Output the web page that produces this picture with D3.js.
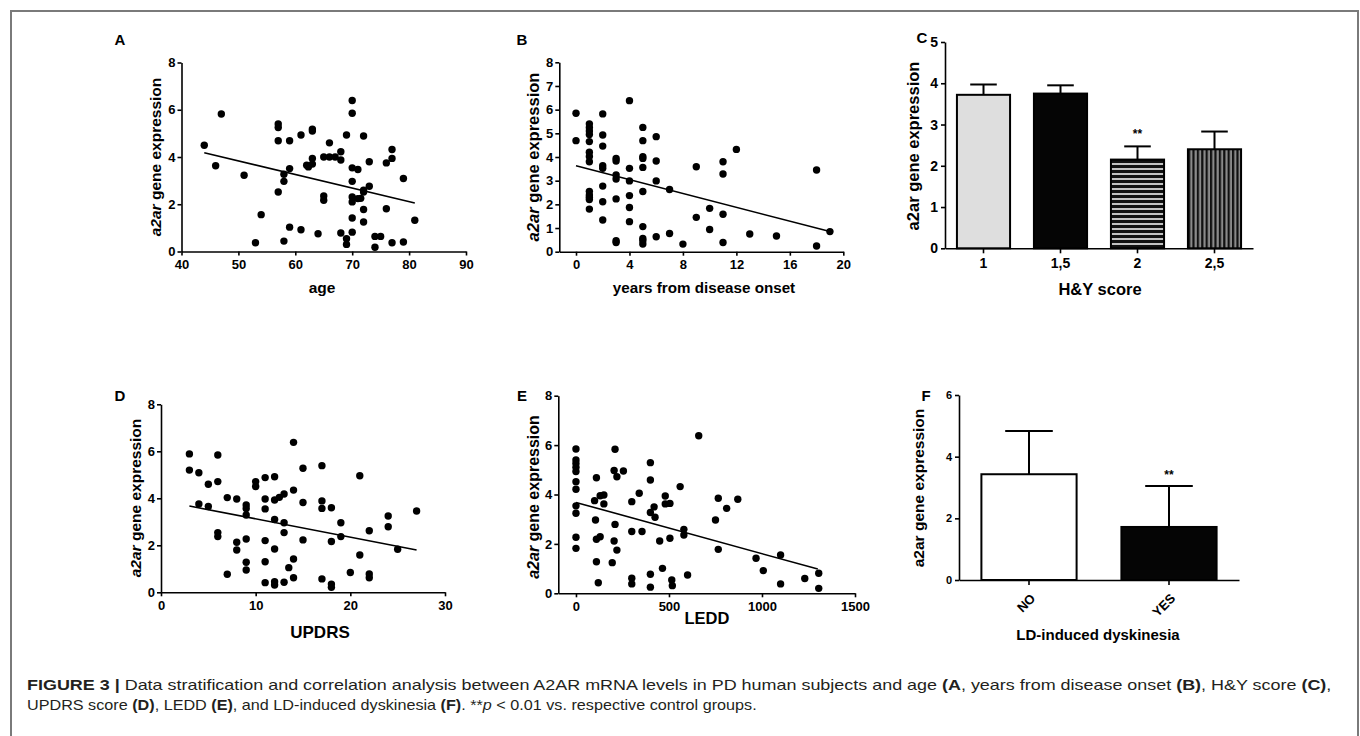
<html>
<script src="https://d3js.org/d3.v7.min.js"></script>
<style>
body {margin:0; background:white;}
text {font-family: "Liberation Sans", Arial, sans-serif;}
.axis path, .axis line {stroke:black; stroke-width:1.6;}
.axis text {font-weight:bold; fill:black;}
</style>
<body>
<svg width=1360 height=736></svg>
<script>
// ---- data ----
// A: age vs a2ar expression
var ageData = [[44,4.5],[46,3.63],[47,5.82],[51,3.23],[53,0.37],[54,1.56],[57,5.4],[57,5.25],[57,4.69],[57,2.52],
  [58,3.27],[58,2.97],[58,0.44],[59,4.69],[59,3.51],[59,1.03],[61,4.93],[61,0.92],[62,3.65],[62.3,3.58],
  [63,5.18],[63,5.1],[63,3.94],[63,3.7],[64,0.75],[65,4.0],[65,2.35],[65,2.17],[66,4.6],[66,4.0],
  [67,4.0],[68,4.22],[68,3.87],[68,0.78],[69,4.93],[69,0.54],[69,0.3],[70,6.39],[70,5.85],[70,3.54],
  [70,2.97],[70,2.31],[70,2.1],[70,1.42],[70,0.82],[71,3.47],[71,2.24],[71.5,2.25],[72,4.89],[72,2.6],
  [72,2.52],[72,1.78],[72,1.25],[73,3.8],[73,2.76],[74,0.64],[74,0.18],[75,0.64],[76,3.75],[76,1.81],
  [77,4.32],[77,3.94],[77,0.37],[79,3.09],[79,0.4],[81,1.32]];
var ageFit = [[44,4.18],[81,2.05]];

// B: years from disease onset
var onsetData = [[0,5.85],[0,4.69],[1,5.4],[1,5.25],[1,5.1],[1,4.95],[1,4.65],[1,4.2],[1,4.02],[1,3.8],
  [1,2.55],[1,2.4],[1,2.3],[1,2.2],[1,1.8],[2,5.82],[2,4.93],[2,4.46],[2,3.63],[2,3.52],[2,2.77],[2,2.11],[2,1.34],
  [3,3.94],[3,3.83],[3,3.24],[3,3.07],[3,2.23],[3,0.46],[3,0.39],[4,6.38],[4,3.52],[4,2.99],[4,2.37],[4,1.87],[4,1.27],
  [5,5.25],[5,4.69],[5,4.01],[5,3.94],[5,3.56],[5,2.54],[5,1.06],[5,0.56],[5,0.46],[5,0.32],
  [6,4.86],[6,3.83],[6,2.99],[6,0.63],[7,2.63],[7,0.77],[8,0.32],[9,3.59],[9,1.45],[10,1.83],[10,0.94],
  [11,3.8],[11,3.28],[11,1.58],[11,0.39],[12,4.32],[13,0.75],[15,0.66],[18,3.45],[18,0.24],[19,0.85]];
var onsetFit = [[0,3.63],[19,0.85]];

// C: H&Y score bars (mean, sem)
var hyCats = ["1","1,5","2","2,5"];
var hyMean = [3.72,3.75,2.15,2.4];
var hySem = [0.25,0.2,0.32,0.43];
var hyStar = ["","","**",""];

// D: UPDRS
var updrsData = [[3,5.89],[3,5.2],[4,5.09],[4,3.76],[5,4.6],[5,3.65],[6,5.84],[6,4.71],[6,2.54],[6,2.37],
  [7,4.03],[7,0.77],[8,3.97],[8,2.13],[8,1.8],[9,3.72],[9,3.57],[9,3.29],[9,2.27],[9,1.28],[9,0.95],
  [10,4.71],[10,4.5],[11,4.88],[11,3.97],[11,3.55],[11,2.2],[11,1.3],[11,0.41],[12,4.92],[12,3.93],
  [12,3.1],[12,1.84],[12,0.45],[12,0.31],[12.5,4.04],[13,4.18],[13,2.96],[13,2.54],[13,0.43],[13.5,1.05],
  [14,6.38],[14,4.35],[14,1.42],[14,0.62],[15,5.28],[15,3.82],[15,2.23],[17,5.39],[17,3.89],[17,3.57],
  [17,0.57],[18,3.6],[18,2.16],[18,0.35],[18,0.21],[19,2.96],[19,2.37],[20,0.84],[21,4.96],[21,1.59],
  [22,2.62],[22,0.78],[22,0.62],[24,3.25],[24,2.79],[25,1.83],[27,3.46]];
var updrsFit = [[3,3.67],[27,1.8]];

// E: LEDD
var leddData = [[0,5.84],[0,5.4],[0,5.26],[0,5.1],[0,4.93],[0,4.52],[0,4.21],[0,3.54],[0,3.24],[0,2.27],[0,1.82],
  [110,4.68],[100,3.75],[130,3.95],[150,3.98],[150,3.62],[105,2.97],[110,2.19],[130,2.29],[110,1.28],[120,0.43],
  [210,5.83],[205,4.97],[220,4.72],[255,4.95],[210,2.79],[205,2.12],[220,1.75],[195,1.24],
  [300,3.71],[300,2.5],[340,4.05],[355,2.5],[300,0.61],[300,0.38],
  [400,5.29],[400,4.59],[400,3.27],[420,3.5],[425,3.08],[400,0.77],[400,0.25],
  [450,2.12],[465,1.01],[480,3.94],[480,3.62],[505,3.64],[505,2.23],[515,0.54],[518,0.31],
  [560,4.32],[580,2.59],[580,2.36],[600,0.74],[660,6.38],[750,2.97],[765,3.85],[765,1.78],[810,3.44],[870,3.81],
  [968,1.42],[1007,0.92],[1100,1.55],[1100,0.38],[1230,0.6],[1305,0.81],[1305,0.2]];
var leddFit = [[0,3.68],[1300,0.98]];

// F: LD-induced dyskinesia bars (mean, sd)
var dysCats = ["NO","YES"];
var dysMean = [3.43,1.72];
var dysSd = [1.4,1.33];
var dysStar = ["","**"];

var svg = d3.select("svg");
var fmt = d3.format("d");

// stripe patterns for H&Y bars
var defs = svg.append("defs");
var hp = defs.append("pattern").attr("id","hstripe").attr("patternUnits","userSpaceOnUse").attr("width",6).attr("height",5);
hp.append("rect").attr("width",6).attr("height",5).attr("fill","#111");
hp.append("rect").attr("y",3.2).attr("width",6).attr("height",1.6).attr("fill","#eee");
var vp = defs.append("pattern").attr("id","vstripe").attr("patternUnits","userSpaceOnUse").attr("width",4.4).attr("height",6);
vp.append("rect").attr("width",4.4).attr("height",6).attr("fill","#8a8a8a");
vp.append("rect").attr("width",2.2).attr("height",6).attr("fill","#111");

// outer frame
svg.append("rect").attr("x",11).attr("y",11).attr("width",1347).attr("height",760)
   .attr("fill","none").attr("stroke","#7a7a7a").attr("stroke-width",2);

function yTitle(cx, cy, italic, size) {
  var t = svg.append("text")
     .attr("transform","translate("+(cx+size*0.36)+","+cy+") rotate(-90)")
     .style("text-anchor","middle").style("font-weight","bold").style("font-size",size+"px");
  t.append("tspan").style("font-style", italic ? "italic" : "normal").text("a2ar");
  t.append("tspan").text(" gene expression");
}

function xTitle(cx, y, label, size) {
  svg.append("text").attr("x",cx).attr("y",y).style("text-anchor","middle")
     .style("font-weight","bold").style("font-size",size+"px").text(label);
}

function panelLabel(x, y, s) {
  svg.append("text").attr("x",x).attr("y",y).style("text-anchor","middle")
     .style("font-weight","bold").style("font-size","15px").text(s);
}

function scatter(p) {
  var x = d3.scaleLinear().domain(p.xDomain).range(p.xRange);
  var y = d3.scaleLinear().domain([0,p.yMax]).range(p.yRange);
  var g = svg.append("g");

  g.append("g").attr("class","axis").attr("transform","translate(0,"+p.yRange[0]+")")
   .style("font-size","13px")
   .call(d3.axisBottom(x).tickValues(p.xTicks).tickFormat(fmt).tickSize(4).tickSizeOuter(0).tickPadding(4));
  g.append("g").attr("class","axis").attr("transform","translate("+p.xRange[0]+",0)")
   .style("font-size","13px")
   .call(d3.axisLeft(y).tickValues(p.yTicks).tickFormat(fmt).tickSize(4).tickSizeOuter(0).tickPadding(2));

  g.append("g").selectAll("circle").data(p.data).enter().append("circle")
   .attr("cx", function(d) {return x(d[0]);})
   .attr("cy", function(d) {return y(d[1]);})
   .attr("r", 3.7).attr("fill","black");

  g.append("line")
   .attr("x1", x(p.fit[0][0])).attr("y1", y(p.fit[0][1]))
   .attr("x2", x(p.fit[1][0])).attr("y2", y(p.fit[1][1]))
   .attr("stroke","black").attr("stroke-width",1.6);
}

function bars(p) {
  var x = d3.scaleBand().domain(p.cats).range(p.xRange).paddingInner(p.pad).paddingOuter(p.pad/2);
  var y = d3.scaleLinear().domain([0,p.yMax]).range(p.yRange);
  var g = svg.append("g");
  var rows = p.cats.map(function(c,i) {return {c:c, m:p.mean[i], e:p.err[i], f:p.fill[i], s:p.star[i]};});

  g.selectAll("rect").data(rows).enter().append("rect")
   .attr("x", function(d) {return x(d.c);})
   .attr("y", function(d) {return y(d.m);})
   .attr("width", x.bandwidth())
   .attr("height", function(d) {return y(0) - y(d.m);})
   .attr("fill", function(d) {return d.f;})
   .attr("stroke","black").attr("stroke-width",2);

  var cw = x.bandwidth()*0.5;
  rows.forEach(function(d) {
    var cx = x(d.c) + x.bandwidth()/2;
    g.append("line").attr("x1",cx).attr("x2",cx).attr("y1",y(d.m)).attr("y2",y(d.m+d.e))
     .attr("stroke","black").attr("stroke-width",2);
    g.append("line").attr("x1",cx-cw/2).attr("x2",cx+cw/2).attr("y1",y(d.m+d.e)).attr("y2",y(d.m+d.e))
     .attr("stroke","black").attr("stroke-width",2);
    if (d.s) {
      g.append("text").attr("x",cx).attr("y",y(d.m+d.e)-p.starGap).style("text-anchor","middle")
       .style("font-weight","bold").style("font-size","12px").text(d.s);
    }
  });

  var xa = g.append("g").attr("class","axis").attr("transform","translate(0,"+p.yRange[0]+")")
   .style("font-size", p.xFont)
   .call(d3.axisBottom(x).tickSize(5).tickSizeOuter(0).tickPadding(5));
  if (p.rotate) {
    xa.selectAll("text").attr("y",0).attr("dy","0.35em").style("text-anchor","end")
      .attr("transform","translate(4,16) rotate(-45)");
  }
  g.append("g").attr("class","axis").attr("transform","translate("+p.xRange[0]+",0)")
   .style("font-size", p.yFont)
   .call(d3.axisLeft(y).tickValues(p.yTicks).tickFormat(fmt).tickSize(4).tickSizeOuter(0).tickPadding(3));
}

// ---- top row ----
panelLabel(120, 45, "A");
scatter({data:ageData, fit:ageFit, xDomain:[40,90], xRange:[181.5,466], xTicks:[40,50,60,70,80,90],
         yMax:8, yRange:[251.5,62.5], yTicks:[0,2,4,6,8]});
xTitle(322, 293, "age", 15.5);
yTitle(155, 157, true, 15.5);

panelLabel(522, 45, "B");
scatter({data:onsetData, fit:onsetFit, xDomain:[-1.25,20], xRange:[559.3,843.3], xTicks:[0,4,8,12,16,20],
         yMax:8, yRange:[251.7,62.3], yTicks:[0,1,2,3,4,5,6,7,8]});
xTitle(704, 293, "years from disease onset", 15.2);
yTitle(533, 157, true, 16.5);

panelLabel(922, 43, "C");
bars({cats:hyCats, mean:hyMean, err:hySem, star:hyStar,
      fill:["#dedede","#050505","url(#hstripe)","url(#vstripe)"],
      xRange:[945,1253], pad:0.31, yMax:5, yRange:[248.3,42], yTicks:[0,1,2,3,4,5],
      xFont:"14px", yFont:"14px", starGap:8, rotate:false});
xTitle(1100, 295, "H&Y score", 16.5);
yTitle(913, 146, false, 16.5);

// ---- bottom row ----
panelLabel(120, 401, "D");
scatter({data:updrsData, fit:updrsFit, xDomain:[0,30], xRange:[161,445], xTicks:[0,10,20,30],
         yMax:8, yRange:[592.3,404.3], yTicks:[0,2,4,6,8]});
xTitle(320, 638, "UPDRS", 17);
yTitle(135, 498, true, 15.5);

panelLabel(522, 401, "E");
scatter({data:leddData, fit:leddFit, xDomain:[-95,1500], xRange:[558.3,855], xTicks:[0,500,1000,1500],
         yMax:8, yRange:[593.3,395.7], yTicks:[0,2,4,6,8]});
xTitle(707, 624, "LEDD", 16.5);
yTitle(533, 497, true, 16);

panelLabel(926, 401, "F");
bars({cats:dysCats, mean:dysMean, err:dysSd, star:dysStar, fill:["white","#050505"],
      xRange:[959,1239], pad:0.32, yMax:6, yRange:[580,395], yTicks:[0,2,4,6],
      xFont:"13px", yFont:"11px", starGap:7, rotate:true});
xTitle(1098, 640, "LD-induced dyskinesia", 15);
yTitle(918, 488, false, 15.5);

// ---- caption ----
function caption(y, width, parts) {
  var t = svg.append("text").attr("transform","translate(27,"+y+")")
     .style("font-size","14px").style("fill","#231f20");
  parts.forEach(function(s) {
    var ts = t.append("tspan").text(s[0]);
    if (s[1] == "b") ts.style("font-weight","bold");
    if (s[1] == "i") ts.style("font-style","italic");
  });
  var k = width / t.node().getComputedTextLength();
  t.attr("transform","translate(27,"+y+") scale("+k+",1)");
}
caption(690, 1306, [["FIGURE 3 |","b"],[" Data stratification and correlation analysis between A2AR mRNA levels in PD human subjects and age "],
  ["(A","b"],[", years from disease onset "],["(B)","b"],[", H&Y score "],["(C)","b"],[","]]);
caption(710, 730, [["UPDRS score "],["(D)","b"],[", LEDD "],["(E)","b"],[", and LD-induced dyskinesia "],["(F)","b"],
  [". **"],["p","i"],[" < 0.01 vs. respective control groups."]]);
</script>
</body>
</html>
